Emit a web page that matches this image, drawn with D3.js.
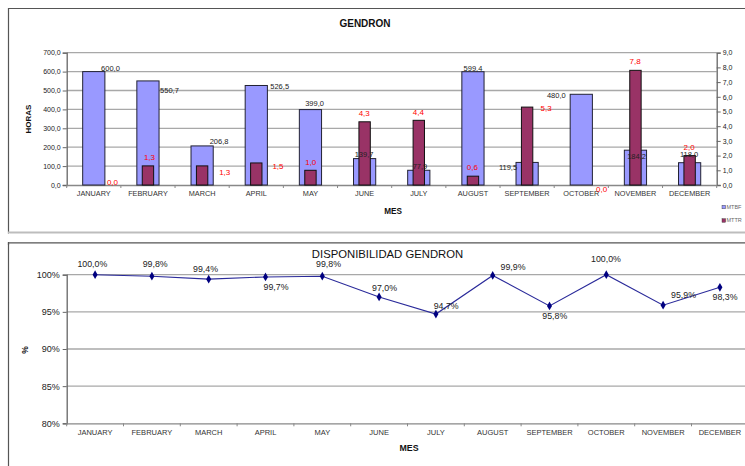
<!DOCTYPE html>
<html>
<head>
<meta charset="utf-8">
<script src="https://cdn.jsdelivr.net/npm/d3@7"></script>
<style>
  html, body { margin: 0; padding: 0; background: #fff; }
  svg { display: block; font-family: "Liberation Sans", Arial, sans-serif; }
</style>
</head>
<body>
<svg id="chart" width="745" height="466"></svg>
<script>
// ---------- DATA ----------
const months = ["JANUARY","FEBRUARY","MARCH","APRIL","MAY","JUNE","JULY","AUGUST","SEPTEMBER","OCTOBER","NOVEMBER","DECEMBER"];
const mtbf = [600.0, 550.7, 206.8, 526.5, 399.0, 139.7, 77.9, 599.4, 119.5, 480.0, 184.2, 118.0];
const mttr = [0.0, 1.3, 1.3, 1.5, 1.0, 4.3, 4.4, 0.6, 5.3, 0.0, 7.8, 2.0];
const availability = [100.0, 99.8, 99.4, 99.7, 99.8, 97.0, 94.7, 99.9, 95.8, 100.0, 95.9, 98.3];
const leftTicks = [0, 100, 200, 300, 400, 500, 600, 700];
const rightTicks = [0, 1, 2, 3, 4, 5, 6, 7, 8, 9];
const pctTicks = [80, 85, 90, 95, 100];

// label placement offsets (manually dragged labels in the original)
const mtbfLabelOffsets = [[16.7,-3.6],[21.5,9.8],[16.9,-4.2],[23.4,0.5],[4.1,-6.3],[-0.6,-4.6],[1.2,-3.6],[0,-3.4],[-19.1,5.3],[-25,1.4],[1.1,6.1],[-0.6,-8.4]];
const mttrLabelOffsets = [[18.7,-2.7],[1.5,-8.6],[22.6,6.1],[21.7,3.7],[0.3,-8.3],[-0.4,-8.8],[-0.5,-8],[-0.6,-8.5],[18.9,1.2],[20.4,4.3],[-0.4,-9],[-0.6,-8.6]];
const availLabelOffsets = [[-2.8,-10.4],[3.3,-11.9],[-3.2,-9.9],[10.5,10.4],[6.2,-11.9],[5.4,-9.3],[10.3,-8.4],[20.3,-8.1],[5.3,9.8],[-0.3,-16],[20.4,-10.2],[5.1,9.4]];

const fmt1 = v => v.toFixed(1).replace(".", ",");
const svg = d3.select("#chart");

// ---------- PANEL FRAMES ----------
svg.append("path").attr("d","M8.5,245 L8.5,8.5 L745,8.5").attr("fill","none").attr("stroke","#555").attr("stroke-width",1.2);
svg.append("line").attr("x1",8).attr("x2",745).attr("y1",232.5).attr("y2",232.5).attr("stroke","#bdbdbd").attr("stroke-width",2);
svg.append("path").attr("d","M8.5,466 L8.5,242.8 L745,242.8").attr("fill","none").attr("stroke","#555").attr("stroke-width",1.2);
svg.append("rect").attr("x",7).attr("y",233.6).attr("width",3).attr("height",8.4).attr("fill","#fff");

// ---------- TOP CHART ----------
const t = {left: 66.7, right: 716.7, top: 52.7, bottom: 185};
const xT = d3.scaleBand().domain(months).range([t.left, t.right]).padding(0);
const yL = d3.scaleLinear().domain([0, 700]).range([t.bottom, t.top]);
const yR = d3.scaleLinear().domain([0, 9]).range([t.bottom, t.top]);

svg.append("g").selectAll("line").data(leftTicks.slice(1)).join("line")
  .attr("x1", t.left).attr("x2", t.right)
  .attr("y1", d => yL(d)).attr("y2", d => yL(d))
  .attr("stroke", "#a8a8a8").attr("stroke-width", 1.3);

const gL = svg.append("g").attr("transform", `translate(${t.left},0)`)
  .call(d3.axisLeft(yL).tickValues(leftTicks).tickFormat(fmt1).tickSize(4).tickPadding(2));
gL.select(".domain").attr("stroke", "#666").attr("stroke-width", 1.3);
gL.selectAll(".tick line").attr("stroke", "#666");
gL.selectAll("text").attr("font-size", "7px").attr("fill", "#222").attr("font-family", "Liberation Sans, Arial, sans-serif");

const gR = svg.append("g").attr("transform", `translate(${t.right},0)`)
  .call(d3.axisRight(yR).tickValues(rightTicks).tickFormat(fmt1).tickSize(4).tickPadding(2));
gR.select(".domain").attr("stroke", "#666").attr("stroke-width", 1.3);
gR.selectAll(".tick line").attr("stroke", "#666");
gR.selectAll("text").attr("font-size", "7px").attr("fill", "#222").attr("font-family", "Liberation Sans, Arial, sans-serif");

const gB = svg.append("g").attr("transform", `translate(0,${t.bottom})`)
  .call(d3.axisBottom(xT).tickSize(0).tickPadding(6));
gB.select(".domain").attr("stroke", "#888").attr("stroke-width", 1.3);
gB.selectAll("text").attr("font-size", "7.3px").attr("fill", "#333").attr("font-family", "Liberation Sans, Arial, sans-serif");
svg.append("g").selectAll("line").data(d3.range(months.length + 1)).join("line")
  .attr("x1", i => t.left + i * xT.bandwidth()).attr("x2", i => t.left + i * xT.bandwidth())
  .attr("y1", t.bottom).attr("y2", t.bottom + 3).attr("stroke", "#888");

const wMTBF = xT.bandwidth() * 0.41;
const wMTTR = xT.bandwidth() * 0.21;
const cx = (scale, m) => scale(m) + scale.bandwidth() / 2;

svg.append("g").selectAll("rect").data(mtbf).join("rect")
  .attr("x", (d, i) => cx(xT, months[i]) - wMTBF / 2)
  .attr("y", d => yL(d))
  .attr("width", wMTBF)
  .attr("height", d => yL(0) - yL(d))
  .attr("fill", "#9999ff").attr("stroke", "#222233").attr("stroke-width", 1);

svg.append("g").selectAll("rect").data(mttr).join("rect")
  .attr("x", (d, i) => cx(xT, months[i]) - wMTTR / 2)
  .attr("y", d => yR(d))
  .attr("width", wMTTR)
  .attr("height", d => yR(0) - yR(d))
  .attr("fill", "#993366").attr("stroke", d => d > 0 ? "#111" : "none").attr("stroke-width", 1);

svg.append("g").selectAll("text").data(mtbf).join("text")
  .attr("x", (d, i) => cx(xT, months[i]) + mtbfLabelOffsets[i][0])
  .attr("y", (d, i) => yL(d) + mtbfLabelOffsets[i][1])
  .attr("dy", "0.35em").attr("text-anchor", "middle")
  .attr("font-size", "7.5px").attr("fill", "#222")
  .text(fmt1);

svg.append("g").selectAll("text").data(mttr).join("text")
  .attr("x", (d, i) => cx(xT, months[i]) + mttrLabelOffsets[i][0])
  .attr("y", (d, i) => yR(d) + mttrLabelOffsets[i][1])
  .attr("dy", "0.35em").attr("text-anchor", "middle")
  .attr("font-size", "8px").attr("fill", "#ff0000")
  .text(fmt1);

svg.append("text").attr("x", 365).attr("y", 23.5).attr("dy", "0.35em").attr("text-anchor", "middle")
  .attr("font-size", "10px").attr("font-weight", "bold").attr("fill", "#111").text("GENDRON");
svg.append("text").attr("transform", "translate(28,119) rotate(-90)").attr("dy", "0.35em").attr("text-anchor", "middle")
  .attr("font-size", "8px").attr("font-weight", "bold").attr("fill", "#111").text("HORAS");
svg.append("text").attr("x", 393).attr("y", 210.7).attr("dy", "0.35em").attr("text-anchor", "middle")
  .attr("font-size", "8.2px").attr("font-weight", "bold").attr("fill", "#111").text("MES");

const legend = [["MTBF", "#9999ff"], ["MTTR", "#993366"]];
const lg = svg.append("g").selectAll("g").data(legend).join("g")
  .attr("transform", (d, i) => `translate(722,${207 + i * 13.5})`);
lg.append("rect").attr("x", 0).attr("y", -1.8).attr("width", 3.6).attr("height", 3.6)
  .attr("fill", d => d[1]).attr("stroke", "#333").attr("stroke-width", 0.4);
lg.append("text").attr("x", 4.5).attr("dy", "0.35em").attr("font-size", "5.5px").attr("fill", "#666").text(d => d[0]);

// ---------- BOTTOM CHART ----------
const b = {left: 66.7, right: 748.3, top: 274.7, bottom: 423.3};
const xB = d3.scaleBand().domain(months).range([b.left, b.right]).padding(0);
const yB = d3.scaleLinear().domain([80, 100]).range([b.bottom, b.top]);

svg.append("g").selectAll("line").data(pctTicks.slice(1)).join("line")
  .attr("x1", b.left).attr("x2", 745)
  .attr("y1", d => yB(d)).attr("y2", d => yB(d))
  .attr("stroke", "#a8a8a8").attr("stroke-width", 1.3);

const gBL = svg.append("g").attr("transform", `translate(${b.left},0)`)
  .call(d3.axisLeft(yB).tickValues(pctTicks).tickFormat(d => d + "%").tickSize(4).tickPadding(3));
gBL.select(".domain").attr("stroke", "#666").attr("stroke-width", 1.3);
gBL.selectAll(".tick line").attr("stroke", "#666");
gBL.selectAll("text").attr("font-size", "9px").attr("fill", "#222").attr("font-family", "Liberation Sans, Arial, sans-serif");

const gBB = svg.append("g").attr("transform", `translate(0,${b.bottom})`)
  .call(d3.axisBottom(xB).tickSize(0).tickPadding(6));
gBB.select(".domain").attr("stroke", "#888").attr("stroke-width", 1.3);
gBB.selectAll("text").attr("font-size", "7.5px").attr("fill", "#333").attr("font-family", "Liberation Sans, Arial, sans-serif");
svg.append("g").selectAll("line").data(d3.range(months.length)).join("line")
  .attr("x1", i => b.left + i * xB.bandwidth()).attr("x2", i => b.left + i * xB.bandwidth())
  .attr("y1", b.bottom).attr("y2", b.bottom + 3).attr("stroke", "#888");

const line = d3.line().x((d, i) => cx(xB, months[i])).y(d => yB(d));
svg.append("path").datum(availability).attr("d", line)
  .attr("fill", "none").attr("stroke", "#2a2a9a").attr("stroke-width", 1.1);

const diamond = d3.symbol().type(d3.symbolDiamond).size(22);
svg.append("g").selectAll("path").data(availability).join("path")
  .attr("transform", (d, i) => `translate(${cx(xB, months[i])},${yB(d)})`)
  .attr("d", diamond).attr("fill", "#000080");

svg.append("g").selectAll("text").data(availability).join("text")
  .attr("x", (d, i) => cx(xB, months[i]) + availLabelOffsets[i][0])
  .attr("y", (d, i) => yB(d) + availLabelOffsets[i][1])
  .attr("dy", "0.35em").attr("text-anchor", "middle")
  .attr("font-size", "8.8px").attr("fill", "#222")
  .text(d => fmt1(d) + "%");

svg.append("text").attr("x", 387.5).attr("y", 254).attr("dy", "0.35em").attr("text-anchor", "middle")
  .attr("font-size", "11.3px").attr("fill", "#111").text("DISPONIBILIDAD GENDRON");
svg.append("text").attr("transform", "translate(25,350) rotate(-90)").attr("dy", "0.35em").attr("text-anchor", "middle")
  .attr("font-size", "8.5px").attr("font-weight", "bold").attr("fill", "#111").text("%");
svg.append("text").attr("x", 409).attr("y", 448.3).attr("dy", "0.35em").attr("text-anchor", "middle")
  .attr("font-size", "8.8px").attr("font-weight", "bold").attr("fill", "#111").text("MES");
</script>
</body>
</html>
